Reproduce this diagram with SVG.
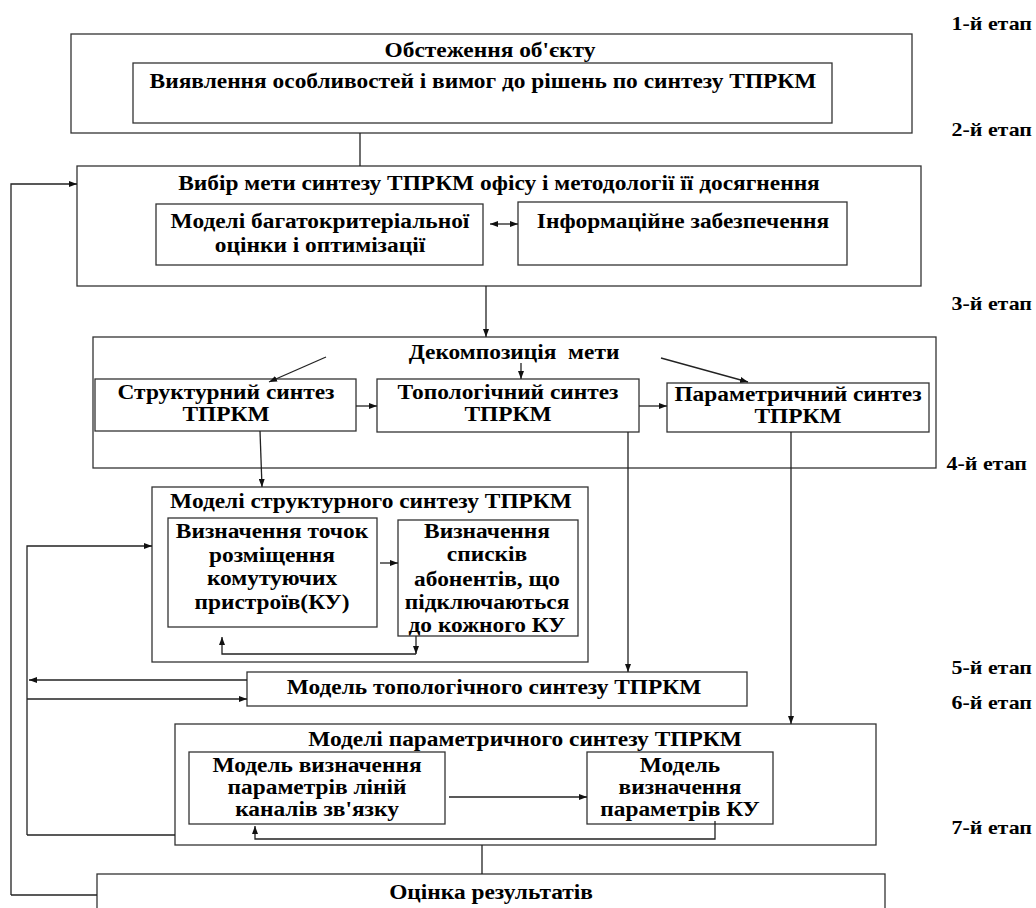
<svg xmlns="http://www.w3.org/2000/svg" width="1036" height="908" viewBox="0 0 1036 908">
<defs>
<marker id="ah" markerWidth="8" markerHeight="6" refX="8" refY="3" orient="auto" markerUnits="userSpaceOnUse">
<path d="M0,0 L8,3 L0,6 z" fill="#111"/>
</marker>
<marker id="ahs" markerWidth="8" markerHeight="6" refX="0" refY="3" orient="auto" markerUnits="userSpaceOnUse">
<path d="M8,0 L0,3 L8,6 z" fill="#111"/>
</marker>
<style>
.b{fill:#fff;stroke:#333;stroke-width:1.3}
.t{font-family:"Liberation Serif","Times New Roman",serif;font-weight:bold;font-size:20px;fill:#000;text-anchor:middle}
.s{font-family:"Liberation Serif","Times New Roman",serif;font-weight:bold;font-size:18px;fill:#000;text-anchor:end}
.c{fill:none;stroke:#222;stroke-width:1.3}
.a{fill:none;stroke:#222;stroke-width:1.3;marker-end:url(#ah)}
</style>
</defs>
<rect width="1036" height="908" fill="#fff"/>

<g id="stages">
<text class="s" transform="translate(1032,30) scale(1.22,1)">1-й етап</text>
<text class="s" transform="translate(1032,136) scale(1.22,1)">2-й етап</text>
<text class="s" transform="translate(1032,310) scale(1.22,1)">3-й етап</text>
<text class="s" transform="translate(1027,470) scale(1.22,1)">4-й етап</text>
<text class="s" transform="translate(1032,674) scale(1.22,1)">5-й етап</text>
<text class="s" transform="translate(1032,709) scale(1.22,1)">6-й етап</text>
<text class="s" transform="translate(1032,834) scale(1.22,1)">7-й етап</text>
</g>

<g id="n1">
<rect class="b" x="71" y="34" width="841" height="99"/>
<text class="t" transform="translate(490,57) scale(1.17,1)">Обстеження об'єкту</text>
<rect class="b" x="133" y="63" width="699" height="60"/>
<text class="t" transform="translate(483,88) scale(1.17,1)">Виявлення особливостей і вимог до рішень по синтезу ТПРКМ</text>
</g>

<g id="n2">
<rect class="b" x="77" y="166" width="844" height="120"/>
<text class="t" transform="translate(499,190) scale(1.17,1)">Вибір мети синтезу ТПРКМ офісу і методології її досягнення</text>
<rect class="b" x="156" y="204" width="327" height="61"/>
<text class="t" transform="translate(320,228) scale(1.17,1)">Моделі багатокритеріальної</text>
<text class="t" transform="translate(320,252) scale(1.17,1)">оцінки і оптимізації</text>
<rect class="b" x="518" y="202" width="329" height="63"/>
<text class="t" transform="translate(683,228) scale(1.17,1)">Інформаційне забезпечення</text>
</g>

<g id="n3">
<rect class="b" x="93" y="337" width="843" height="131"/>
<text class="t" transform="translate(514,359) scale(1.17,1)" xml:space="preserve">Декомпозиція  мети</text>
<rect class="b" x="95" y="379" width="261" height="52"/>
<text class="t" transform="translate(226,399) scale(1.17,1)">Структурний синтез</text>
<text class="t" transform="translate(226,421) scale(1.17,1)">ТПРКМ</text>
<rect class="b" x="377" y="379" width="262" height="53"/>
<text class="t" transform="translate(508,399) scale(1.17,1)">Топологічний синтез</text>
<text class="t" transform="translate(508,421) scale(1.17,1)">ТПРКМ</text>
<rect class="b" x="667" y="383" width="262" height="49"/>
<text class="t" transform="translate(798,401) scale(1.17,1)">Параметричний синтез</text>
<text class="t" transform="translate(798,423) scale(1.17,1)">ТПРКМ</text>
</g>

<g id="n4">
<rect class="b" x="152" y="487" width="436" height="175"/>
<text class="t" transform="translate(371,508) scale(1.17,1)">Моделі структурного синтезу ТПРКМ</text>
<rect class="b" x="168" y="518" width="209" height="109"/>
<text class="t" transform="translate(272,538) scale(1.17,1)">Визначення точок</text>
<text class="t" transform="translate(272,562) scale(1.17,1)">розміщення</text>
<text class="t" transform="translate(272,585) scale(1.17,1)">комутуючих</text>
<text class="t" transform="translate(272,609) scale(1.17,1)">пристроїв(КУ)</text>
<rect class="b" x="398" y="520" width="180" height="116"/>
<text class="t" transform="translate(487,538) scale(1.17,1)">Визначення</text>
<text class="t" transform="translate(487,561) scale(1.17,1)">списків</text>
<text class="t" transform="translate(487,586) scale(1.17,1)">абонентів, що</text>
<text class="t" transform="translate(487,609) scale(1.17,1)">підключаються</text>
<text class="t" transform="translate(487,632) scale(1.17,1)">до кожного КУ</text>
</g>

<g id="n5">
<rect class="b" x="247" y="672" width="500" height="34"/>
<text class="t" transform="translate(494,694) scale(1.17,1)">Модель топологічного синтезу ТПРКМ</text>
</g>

<g id="n6">
<rect class="b" x="175" y="724" width="701" height="121"/>
<text class="t" transform="translate(525,746) scale(1.17,1)">Моделі параметричного синтезу ТПРКМ</text>
<rect class="b" x="189" y="752" width="256" height="72"/>
<text class="t" transform="translate(317,772) scale(1.17,1)">Модель визначення</text>
<text class="t" transform="translate(317,794) scale(1.17,1)">параметрів ліній</text>
<text class="t" transform="translate(317,816) scale(1.17,1)">каналів зв'язку</text>
<rect class="b" x="587" y="752" width="186" height="72"/>
<text class="t" transform="translate(680,772) scale(1.17,1)">Модель</text>
<text class="t" transform="translate(680,794) scale(1.17,1)">визначення</text>
<text class="t" transform="translate(680,816) scale(1.17,1)">параметрів КУ</text>
</g>

<g id="n7">
<rect class="b" x="97" y="874" width="788" height="60"/>
<text class="t" transform="translate(491,899) scale(1.17,1)">Оцінка результатів</text>
</g>

<g id="connectors">
<path class="c" d="M360,133 V166"/>
<path class="a" d="M11,895 V184 H77"/>
<path class="c" d="M11,895 H97"/>
<path class="a" d="M490,224 H518" style="marker-start:url(#ahs)"/>
<path class="a" d="M486,286 V337"/>
<path class="a" d="M326,357 L269,382"/>
<path class="a" d="M521,363 V379"/>
<path class="a" d="M661,358 L748,382"/>
<path class="a" d="M356,406 H377"/>
<path class="a" d="M639,406 H667"/>
<path class="a" d="M260,431 L262,487"/>
<path class="a" d="M628,432 V672"/>
<path class="a" d="M791,432 V724"/>
<path class="a" d="M27,835 V546 H152"/>
<path class="c" d="M27,835 H175"/>
<path class="a" d="M247,680 H29"/>
<path class="a" d="M27,699 H247"/>
<path class="a" d="M380,563 H398"/>
<path class="a" d="M416,636 V654"/>
<path class="a" d="M416,654 H222 V637"/>
<path class="a" d="M449,797 H587"/>
<path class="a" d="M715,821 V839 H255 V826"/>
<path class="c" d="M482,845 V874"/>
</g>
</svg>
